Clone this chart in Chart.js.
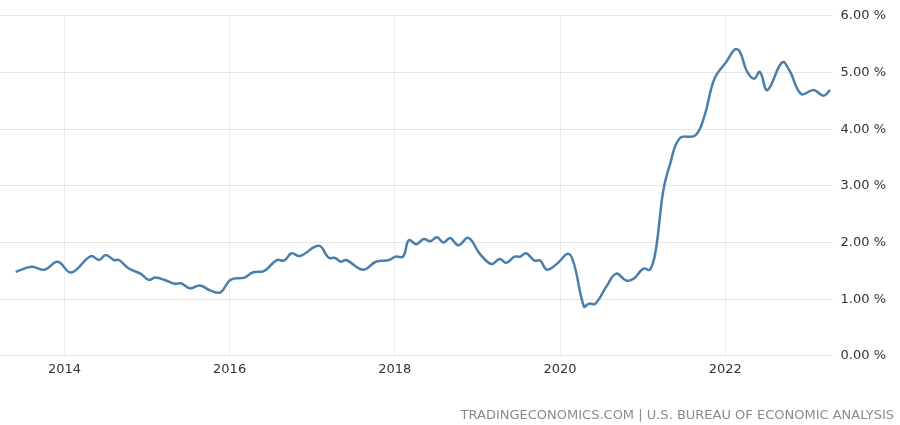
<!DOCTYPE html>
<html lang="en">
<head>
    <meta charset="UTF-8">
    <title>Chart</title>
    <script src="https://cdn.jsdelivr.net/npm/chart.js"></script>
    <style>
        body { margin: 0; padding: 0; background: #fff; }
        .container { width: 900px; height: 425px; }
    </style>
</head>
<body>
    <div class="container"><canvas id="myChart"></canvas></div>
    <script>
        // decimal years and values (%)
        const dates = [2013.41, 2013.60, 2013.76, 2013.92, 2014.08, 2014.32, 2014.42, 2014.50, 2014.60, 2014.66,
            2014.78, 2014.92, 2015.02, 2015.10, 2015.23, 2015.34, 2015.41, 2015.52, 2015.64, 2015.77,
            2015.89, 2016.01, 2016.18, 2016.28, 2016.42, 2016.57, 2016.66, 2016.75, 2016.85, 2017.08,
            2017.20, 2017.27, 2017.35, 2017.41, 2017.62, 2017.77, 2017.93, 2018.01, 2018.10, 2018.17,
            2018.26, 2018.35, 2018.43, 2018.51, 2018.59, 2018.67, 2018.77, 2018.89, 2019.03, 2019.17,
            2019.27, 2019.35, 2019.45, 2019.52, 2019.59, 2019.69, 2019.76, 2019.84, 2019.96, 2020.10,
            2020.17, 2020.29, 2020.35, 2020.43, 2020.56, 2020.68, 2020.80, 2020.89, 2021.01, 2021.09,
            2021.16, 2021.25, 2021.33, 2021.45, 2021.64, 2021.75, 2021.87, 2022.02, 2022.12, 2022.18,
            2022.26, 2022.35, 2022.42, 2022.51, 2022.69, 2022.78, 2022.92, 2023.07, 2023.19, 2023.27];
        const values = [1.48, 1.57, 1.52, 1.66, 1.47, 1.76, 1.69, 1.78, 1.69, 1.69,
            1.54, 1.45, 1.34, 1.38, 1.33, 1.27, 1.28, 1.19, 1.24, 1.15,
            1.12, 1.34, 1.38, 1.47, 1.50, 1.69, 1.68, 1.81, 1.76, 1.94,
            1.73, 1.73, 1.66, 1.69, 1.52, 1.66, 1.69, 1.75, 1.75, 2.04,
            1.97, 2.06, 2.02, 2.09, 2.00, 2.08, 1.95, 2.08, 1.80, 1.62,
            1.71, 1.64, 1.75, 1.75, 1.81, 1.68, 1.68, 1.52, 1.62, 1.80,
            1.62, 0.87, 0.92, 0.92, 1.22, 1.45, 1.33, 1.36, 1.54, 1.52,
            1.87, 2.91, 3.37, 3.84, 3.89, 4.24, 4.89, 5.20, 5.41, 5.36,
            5.03, 4.89, 5.01, 4.69, 5.18, 5.03, 4.62, 4.69, 4.59, 4.69];
        const yearTicks = [2014, 2016, 2018, 2020, 2022];
        const sourceText = 'TRADINGECONOMICS.COM | U.S. BUREAU OF ECONOMIC ANALYSIS';

        const ctx = document.getElementById('myChart').getContext('2d');
        new Chart(ctx, {
            type: 'line',
            data: {
                datasets: [{
                    data: dates.map((d, i) => ({ x: d, y: values[i] })),
                    borderColor: '#4a7fab',
                    borderWidth: 2.5,
                    pointRadius: 0,
                    tension: 0.4,
                    fill: false
                }]
            },
            options: {
                responsive: true,
                maintainAspectRatio: false,
                animation: false,
                layout: { padding: { left: 0, right: 6, top: 6, bottom: 2 } },
                plugins: {
                    legend: { display: false },
                    tooltip: { enabled: false },
                    subtitle: {
                        display: true,
                        text: sourceText,
                        position: 'bottom',
                        align: 'end',
                        color: '#8a8a8a',
                        font: { family: 'DejaVu Sans', size: 13 },
                        padding: { top: 24, bottom: 0 }
                    }
                },
                scales: {
                    x: {
                        type: 'linear',
                        min: 2013.22,
                        max: 2023.3,
                        afterBuildTicks: axis => { axis.ticks = yearTicks.map(v => ({ value: v })); },
                        ticks: {
                            color: '#333',
                            padding: 6,
                            font: { family: 'DejaVu Sans', size: 13 },
                            callback: v => String(v),
                            maxRotation: 0
                        },
                        grid: { color: '#ececec', drawTicks: false },
                        border: { display: false }
                    },
                    y: {
                        position: 'right',
                        min: 0,
                        max: 6,
                        ticks: {
                            stepSize: 1,
                            color: '#333',
                            padding: 8,
                            font: { family: 'DejaVu Sans', size: 13 },
                            callback: v => v.toFixed(2) + ' %'
                        },
                        grid: { color: '#e6e6e6', drawTicks: false },
                        border: { display: false }
                    }
                }
            }
        });
    </script>
</body>
</html>
